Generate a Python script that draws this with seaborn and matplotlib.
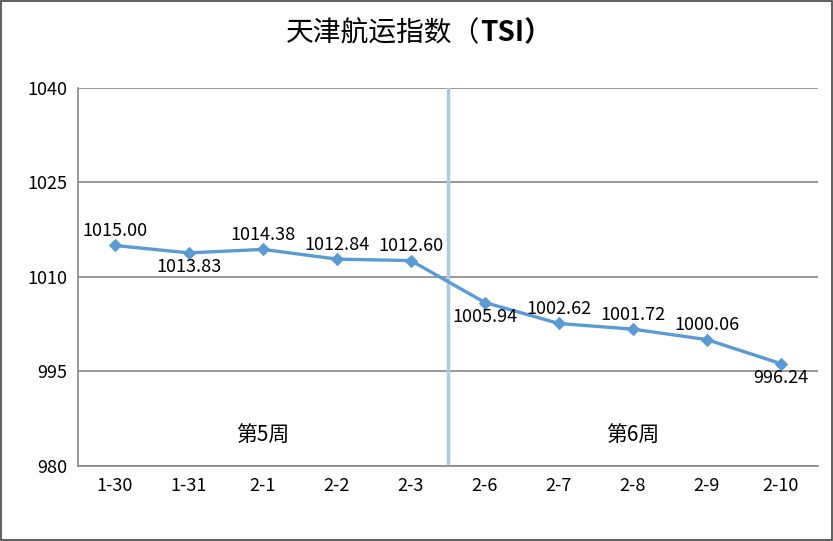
import matplotlib
matplotlib.use("Agg")
import matplotlib.pyplot as plt
import seaborn as sns
import pandas as pd
import numpy as np

dates = ["1-30", "1-31", "2-1", "2-2", "2-3", "2-6", "2-7", "2-8", "2-9", "2-10"]
values = [1015.00, 1013.83, 1014.38, 1012.84, 1012.60, 1005.94, 1002.62, 1001.72, 1000.06, 996.24]
label_pos = ["above", "below", "above", "above", "above", "below", "above", "above", "above", "below"]
week_labels = ["第5周", "第6周"]
yticks = [980, 995, 1010, 1025, 1040]
title_cn = "天津航运指数（"
title_en = "TSI）"

sns.set_theme(style="white")
plt.rcParams['font.family'] = ['Noto Sans CJK SC', 'DejaVu Sans']

df = pd.DataFrame({"date": dates, "value": values, "x": np.arange(len(dates))})

fig = plt.figure(figsize=(8.33, 5.41), dpi=100)
ax = fig.add_axes([78/833, 75/541, 740/833, 378/541])

line_color = "#5B9BD5"
sns.lineplot(data=df, x="x", y="value", ax=ax, color=line_color, linewidth=2.4,
             marker="D", markersize=6.5, markeredgecolor=line_color, zorder=3)

ax.set_xlim(-0.5, len(dates) - 0.5)
ax.set_ylim(980, 1040)
ax.set_yticks(yticks)
ax.set_yticklabels([str(t) for t in yticks], fontsize=13, color="#000000")
ax.set_xticks(np.arange(len(dates)))
ax.set_xticklabels(dates, fontsize=13, color="#000000")
ax.set_xticks(np.arange(len(dates) + 1) - 0.5, minor=True)
ax.tick_params(axis="x", which="major", length=0, pad=8)
ax.tick_params(axis="x", which="minor", length=5, color="#888888", width=1)
ax.tick_params(axis="y", which="major", length=5, color="#888888", width=1, pad=3)
ax.yaxis.grid(True, color="#888888", linewidth=1.2)
ax.xaxis.grid(False)
ax.set_xlabel("")
ax.set_ylabel("")
for s in ["top", "right"]:
    ax.spines[s].set_visible(False)
ax.spines["left"].set_color("#888888")
ax.spines["bottom"].set_color("#888888")
ax.spines["left"].set_linewidth(1.2)
ax.spines["bottom"].set_linewidth(1.2)

ax.axvline(4.5, color="#A9CCE3", linewidth=2.5, zorder=2)

for i, (v, p) in enumerate(zip(values, label_pos)):
    if p == "above":
        ax.annotate(f"{v:.2f}", (i, v), xytext=(0, 4), textcoords="offset points",
                    ha="center", va="bottom", fontsize=13, color="#000000")
    else:
        ax.annotate(f"{v:.2f}", (i, v), xytext=(0, -4), textcoords="offset points",
                    ha="center", va="top", fontsize=13, color="#000000")

ax.text(2, 984.8, week_labels[0], ha="center", va="center", fontsize=15, color="#000000")
ax.text(7, 984.8, week_labels[1], ha="center", va="center", fontsize=15, color="#000000")

# title: Chinese part regular, "TSI" bold, centered as a whole
ty = 1 - 33/541
t1 = fig.text(0, ty, title_cn, ha="left", va="center", fontsize=20, color="#000000")
t2 = fig.text(0, ty, title_en, ha="left", va="center", fontsize=20, fontweight="bold", color="#000000")
r = fig.canvas.get_renderer()
w1 = t1.get_window_extent(r).width / fig.bbox.width
w2 = t2.get_window_extent(r).width / fig.bbox.width
cx = 419/833
x0 = cx - (w1 + w2) / 2
t1.set_x(x0)
t2.set_x(x0 + w1)

fig.patches.append(plt.Rectangle((0.001, 0.001), 0.998, 0.997, transform=fig.transFigure,
                                 fill=False, edgecolor="#444444", linewidth=1.2))

fig.savefig("out.png", dpi=100)
